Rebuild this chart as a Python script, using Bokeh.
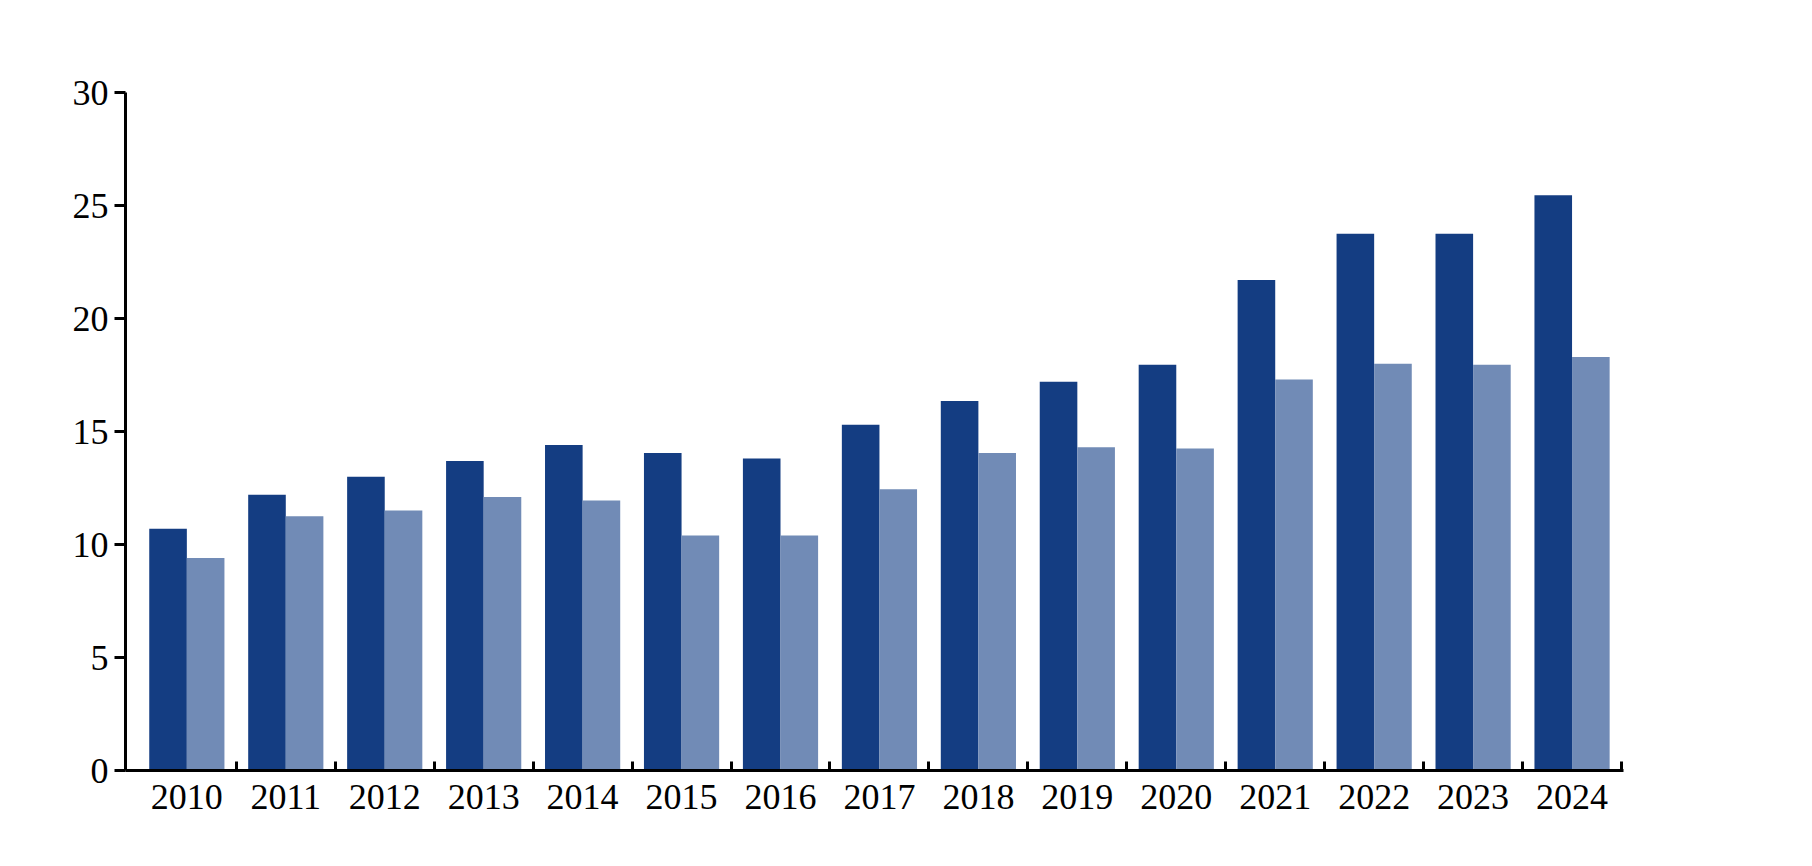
from bokeh.plotting import figure
from bokeh.models import FixedTicker, Label, Range1d, ColumnDataSource
from bokeh.embed import file_html
from bokeh.resources import INLINE

years = ["2010","2011","2012","2013","2014","2015","2016","2017","2018","2019","2020","2021","2022","2023","2024"]
exports = [10.7,12.2,13.0,13.7,14.4,14.05,13.8,15.3,16.35,17.2,17.95,21.7,23.75,23.75,25.45]
imports = [9.4,11.25,11.5,12.1,11.95,10.4,10.4,12.45,14.05,14.3,14.25,17.3,18.0,17.95,18.3]
series_names = ["出口额", "进口额"]
series_colors = ["#143d82", "#718bb6"]

idx = list(range(len(years)))
w = 0.38
src = ColumnDataSource(dict(xe=[i - w/2 for i in idx], xi=[i + w/2 for i in idx], e=exports, im=imports))

p = figure(width=1790, height=850, output_backend="svg", toolbar_location=None,
           x_range=Range1d(-0.62, 14.52), y_range=Range1d(0, 30),
           min_border_left=125, min_border_right=167, min_border_top=92, min_border_bottom=80)
p.outline_line_color = None
p.xgrid.visible = False
p.ygrid.visible = False

p.vbar(x="xe", top="e", width=w, source=src, fill_color=series_colors[0], line_color=None)
p.vbar(x="xi", top="im", width=w, source=src, fill_color=series_colors[1], line_color=None)

font = "Liberation Serif"
cjk = "Noto Sans CJK SC"
p.xaxis.ticker = FixedTicker(ticks=idx, minor_ticks=[i + 0.5 for i in idx])
p.xaxis.major_label_overrides = {i: y for i, y in zip(idx, years)}
p.xaxis.major_tick_line_color = None
p.xaxis.minor_tick_in = 9
p.xaxis.minor_tick_out = 0
p.xaxis.minor_tick_line_width = 3
p.xaxis.axis_line_width = 3
p.xaxis.major_label_text_font = font
p.xaxis.major_label_text_font_size = "36px"
p.xaxis.major_label_text_color = "black"
p.xaxis.major_label_standoff = 8

p.yaxis.ticker = FixedTicker(ticks=[0,5,10,15,20,25,30])
p.yaxis.major_tick_out = 11
p.yaxis.major_tick_in = 0
p.yaxis.major_tick_line_width = 3
p.yaxis.minor_tick_line_color = None
p.yaxis.axis_line_width = 3
p.yaxis.major_label_text_font = font
p.yaxis.major_label_text_font_size = "36px"
p.yaxis.major_label_text_color = "black"
p.yaxis.major_label_standoff = 6

# legend (frame-relative screen coordinates)
for (bx, tx), name, col in zip([(81, 117), (227, 263)], series_names, series_colors):
    p.add_layout(Label(x=bx, y=701, x_units="screen", y_units="screen", text="\u3000",
                       text_font=cjk, text_font_size="24px", text_baseline="middle",
                       background_fill_color=col))
for tx, name in zip([118, 320], series_names):
    p.add_layout(Label(x=tx, y=701, x_units="screen", y_units="screen", text=name,
                       text_font=cjk, text_font_size="34px", text_baseline="middle"))

chars = ["︵", "万", "亿", "元", "︶"]
ys = [691, 655, 614, 576, 542]
for c, yy in zip(chars, ys):
    p.add_layout(Label(x=-79, y=yy, x_units="screen", y_units="screen", text=c,
                       text_font=cjk, text_font_size="34px", text_align="center",
                       text_baseline="middle"))
p.add_layout(Label(x=1492, y=-36, x_units="screen", y_units="screen", text="（年份）",
                   text_font=cjk, text_font_size="34px", text_baseline="middle"))

open("out.html", "w").write(file_html(p, INLINE))
